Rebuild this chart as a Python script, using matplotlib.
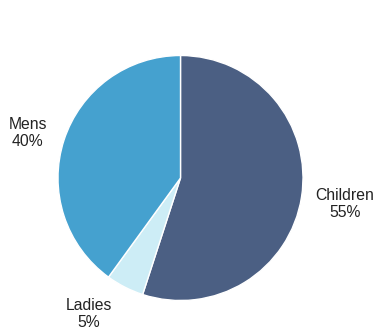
import numpy as np
import matplotlib
matplotlib.use("Agg")
import matplotlib.pyplot as plt

categories = ["Children", "Ladies", "Mens"]
values = [55, 5, 40]
colors = ["#4b5f83", "#cdedf6", "#45a1cf"]
label_dist = [1.36, 1.34, 1.30]
label_shift = [0, -7, 1.6]  # degrees

plt.rcParams['font.family'] = ['Liberation Sans', 'DejaVu Sans']

fig = plt.figure(figsize=(3.79, 3.30), dpi=100)
cx, cy, r = 180.5, 178, 122.5
ax = fig.add_axes([(cx - r) / 379, (330 - cy - r) / 330, 2 * r / 379, 2 * r / 330])
wedges, _ = ax.pie(values, colors=colors, startangle=90, counterclock=False,
                   radius=1, wedgeprops=dict(edgecolor="white", linewidth=1))
ax.set_xlim(-1, 1)
ax.set_ylim(-1, 1)
ax.set_aspect("equal")

for w, cat, v, d, s in zip(wedges, categories, values, label_dist, label_shift):
    ang = np.deg2rad((w.theta1 + w.theta2) / 2 + s)
    ax.text(d * np.cos(ang), d * np.sin(ang), f"{cat}\n{v}%", ha="center", va="center",
            fontsize=11.3, color="#222222", linespacing=1.12, clip_on=False)

fig.savefig("out.png", dpi=100)
